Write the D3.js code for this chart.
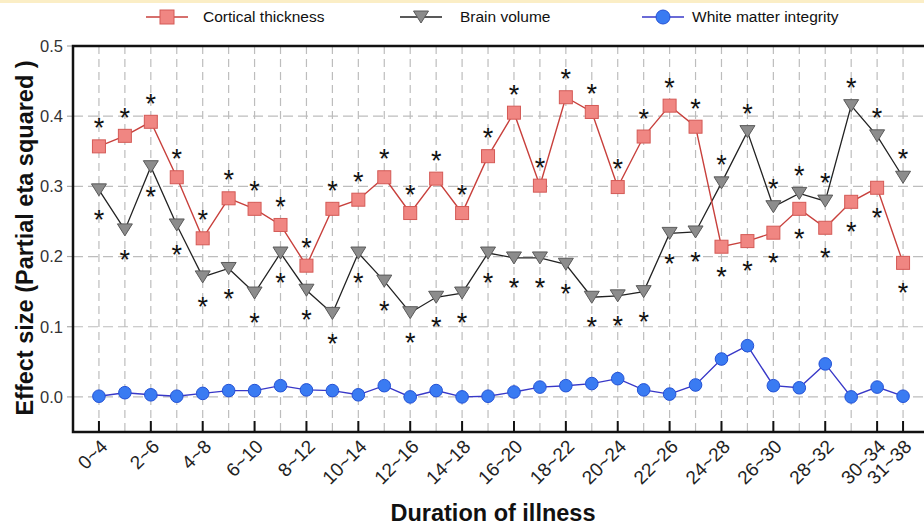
<!DOCTYPE html>
<meta charset="utf-8">
<style>
body { margin: 0; background: #fff; }
text { font-family: "Liberation Sans", Arial, sans-serif; }
</style>
<svg width="924" height="529"></svg>
<script src="https://d3js.org/d3.v7.min.js"></script>
<script>

var durations = ["0~4", "1~5", "2~6", "3~7", "4~8", "5~9", "6~10", "7~11", "8~12", "9~13",
  "10~14", "11~15", "12~16", "13~17", "14~18", "15~19", "16~20", "17~21", "18~22", "19~23",
  "20~24", "21~25", "22~26", "23~27", "24~28", "25~29", "26~30", "27~31", "28~32", "29~33",
  "30~34", "31~38"];

var cortical = [0.357, 0.372, 0.392, 0.313, 0.226, 0.283, 0.268, 0.245, 0.187, 0.268,
  0.281, 0.313, 0.262, 0.311, 0.262, 0.343, 0.405, 0.301, 0.427, 0.406,
  0.299, 0.371, 0.415, 0.385, 0.214, 0.222, 0.234, 0.268, 0.241, 0.278,
  0.298, 0.191];

var brain = [0.295, 0.238, 0.328, 0.245, 0.171, 0.183, 0.148, 0.205, 0.152, 0.119,
  0.205, 0.165, 0.120, 0.142, 0.148, 0.205, 0.198, 0.198, 0.189, 0.142,
  0.144, 0.150, 0.233, 0.235, 0.305, 0.378, 0.271, 0.290, 0.279, 0.415,
  0.372, 0.313];

var white = [0.001, 0.006, 0.003, 0.001, 0.005, 0.009, 0.009, 0.016, 0.010, 0.009,
  0.003, 0.016, 0.000, 0.009, 0.000, 0.001, 0.007, 0.014, 0.016, 0.019,
  0.026, 0.010, 0.004, 0.017, 0.054, 0.073, 0.016, 0.013, 0.047, 0.000,
  0.014, 0.001];

var yTicks = [0.0, 0.1, 0.2, 0.3, 0.4, 0.5];
var gridY = [0.0, 0.1, 0.2, 0.3, 0.4];
// labelled ticks: every other duration plus the last one
var tickLabels = durations.filter(function(d, i) { return i % 2 == 0 || i == durations.length - 1; });

var svg = d3.select("svg"),
  margin = {top: 46, right: -5, bottom: 97, left: 73},
  width = svg.attr("width") - margin.left - margin.right,
  height = svg.attr("height") - margin.top - margin.bottom;

var x = d3.scalePoint().domain(durations).range([0, width]).padding(1),
  y = d3.scaleLinear().domain([-0.05, 0.5]).range([height, 0]);

// thin yellow strip at the very top
svg.append("rect").attr("width", 924).attr("height", 3).attr("fill", "#fbeec6");

var g = svg.append("g")
  .attr("transform", "translate(" + margin.left + "," + margin.top + ")");

// dashed grid
g.append("g").selectAll("line")
  .data(durations)
  .enter().append("line")
    .attr("x1", function(d) { return x(d); })
    .attr("x2", function(d) { return x(d); })
    .attr("y1", 0).attr("y2", height)
    .attr("stroke", "#bdbdbd").attr("stroke-width", 1.2)
    .attr("stroke-dasharray", "8,5");

g.append("g").selectAll("line")
  .data(gridY)
  .enter().append("line")
    .attr("x1", 0).attr("x2", width)
    .attr("y1", function(d) { return y(d); })
    .attr("y2", function(d) { return y(d); })
    .attr("stroke", "#bdbdbd").attr("stroke-width", 1.2)
    .attr("stroke-dasharray", "10,5");

// y axis labels + small grey ticks
var yAx = g.append("g").selectAll("g").data(yTicks).enter().append("g")
  .attr("transform", function(d) { return "translate(0," + y(d) + ")"; });
yAx.append("line").attr("x1", -6).attr("x2", 0).attr("stroke", "#aaa").attr("stroke-width", 1.2);
yAx.append("text")
  .attr("x", -10).attr("dy", "0.35em")
  .attr("text-anchor", "end")
  .attr("font-size", 16.5).attr("fill", "#333")
  .text(function(d) { return d3.format(".1f")(d); });

// x axis ticks (inside, pointing up) and rotated labels
var xAx = g.append("g").selectAll("g").data(tickLabels).enter().append("g")
  .attr("transform", function(d) { return "translate(" + x(d) + "," + height + ")"; });
xAx.append("line").attr("y1", 0).attr("y2", -11).attr("stroke", "#111").attr("stroke-width", 2);
xAx.append("text")
  .attr("transform", "translate(0,6) rotate(-45)")
  .attr("text-anchor", "end")
  .attr("dy", "0.72em")
  .attr("font-size", 19).attr("fill", "#222")
  .text(function(d) { return d; });

// frame
g.append("rect")
  .attr("width", width).attr("height", height)
  .attr("fill", "none").attr("stroke", "#111").attr("stroke-width", 2.5);

function idx(i) { return durations[i]; }

var line = d3.line()
  .x(function(d, i) { return x(idx(i)); })
  .y(function(d) { return y(d); });

var tri = "M-7.5,-6L7.5,-6L0,6Z";

// brain volume
g.append("path").datum(brain)
  .attr("d", line).attr("fill", "none").attr("stroke", "#222").attr("stroke-width", 1.3);
g.append("g").selectAll("path").data(brain).enter().append("path")
  .attr("d", tri)
  .attr("transform", function(d, i) { return "translate(" + x(idx(i)) + "," + y(d) + ")"; })
  .attr("fill", "#8c8c8c").attr("stroke", "#5a5a5a").attr("stroke-width", 1);

// cortical thickness
g.append("path").datum(cortical)
  .attr("d", line).attr("fill", "none").attr("stroke", "#c8403c").attr("stroke-width", 1.4);
g.append("g").selectAll("rect").data(cortical).enter().append("rect")
  .attr("x", function(d, i) { return x(idx(i)) - 6.5; })
  .attr("y", function(d) { return y(d) - 6.5; })
  .attr("width", 13).attr("height", 13)
  .attr("fill", "#f08682").attr("stroke", "#d45a56").attr("stroke-width", 1);

// white matter integrity
g.append("path").datum(white)
  .attr("d", line).attr("fill", "none").attr("stroke", "#3838c8").attr("stroke-width", 1.4);
g.append("g").selectAll("circle").data(white).enter().append("circle")
  .attr("cx", function(d, i) { return x(idx(i)); })
  .attr("cy", function(d) { return y(d); })
  .attr("r", 6.3)
  .attr("fill", "#3a7bf2").attr("stroke", "#2452d6").attr("stroke-width", 1);

// significance stars: above the higher of the two, below the lower
var stars = [];
durations.forEach(function(d, i) {
  var up = cortical[i] >= brain[i];
  stars.push({k: d, v: cortical[i], dir: up ? -1 : 1});
  stars.push({k: d, v: brain[i], dir: up ? 1 : -1});
});
g.append("g").selectAll("text").data(stars).enter().append("text")
  .attr("x", function(d) { return x(d.k); })
  .attr("y", function(d) { return y(d.v) + d.dir * 24; })
  .attr("dy", "0.56em")
  .attr("text-anchor", "middle")
  .attr("font-size", 27).attr("fill", "#111")
  .text("*");

// axis titles
svg.append("text")
  .attr("transform", "translate(" + (margin.left + width / 2 - 8) + ",521)")
  .attr("text-anchor", "middle")
  .attr("font-size", 23.5).attr("font-weight", "bold").attr("fill", "#111")
  .text("Duration of illness");

svg.append("text")
  .attr("transform", "translate(33,238) rotate(-90)")
  .attr("text-anchor", "middle")
  .attr("font-size", 23.5).attr("font-weight", "bold").attr("fill", "#111")
  .text("Effect size (Partial eta squared )");

// legend
var legend = [
  {name: "Cortical thickness", x: 146, color: "#c8403c", shape: "square"},
  {name: "Brain volume", x: 400, color: "#222", shape: "tri"},
  {name: "White matter integrity", x: 642, color: "#3838c8", shape: "circle"}
];
var lg = svg.append("g").selectAll("g").data(legend).enter().append("g")
  .attr("transform", function(d) { return "translate(" + d.x + ",17)"; });
lg.append("line").attr("x1", 0).attr("x2", 42)
  .attr("stroke", function(d) { return d.color; }).attr("stroke-width", 1.4);
lg.each(function(d) {
  var s = d3.select(this);
  if (d.shape == "square") {
    s.append("rect").attr("x", 14).attr("y", -7).attr("width", 14).attr("height", 14)
      .attr("fill", "#f08682").attr("stroke", "#d45a56");
  } else if (d.shape == "tri") {
    s.append("path").attr("d", tri).attr("transform", "translate(21,0)")
      .attr("fill", "#8c8c8c").attr("stroke", "#5a5a5a");
  } else {
    s.append("circle").attr("cx", 21).attr("r", 7)
      .attr("fill", "#3a7bf2").attr("stroke", "#2452d6");
  }
  s.append("text")
    .attr("x", d.shape == "square" ? 57 : (d.shape == "tri" ? 60 : 50))
    .attr("dy", "0.35em")
    .attr("font-size", 15.5).attr("fill", "#111")
    .text(d.name);
});
</script>
